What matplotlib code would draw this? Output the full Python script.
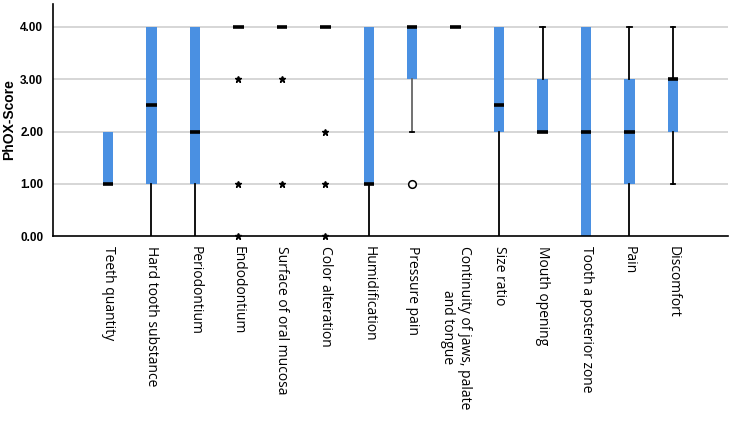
import matplotlib
matplotlib.use("Agg")
import matplotlib.pyplot as plt

# categories and box statistics
labels = ["Teeth quantity", "Hard tooth substance", "Periodontium", "Endodontium",
          "Surface of oral mucosa", "Color alteration", "Humidification",
          "Pressure pain", "Continuity of jaws, palate\nand tongue", "Size ratio",
          "Mouth opening", "Tooth a posterior zone", "Pain", "Discomfort"]
q1 = [1, 1, 1, 4, 4, 4, 1, 3, 4, 2, 2, 0, 1, 2]
med = [1, 2.5, 2, 4, 4, 4, 1, 4, 4, 2.5, 2, 2, 2, 3]
q3 = [2, 4, 4, 4, 4, 4, 4, 4, 4, 4, 3, 4, 3, 3]
whislo = [1, 0, 0, 4, 4, 4, 0, 2, 4, 0, 2, 0, 0, 1]
whishi = [2, 4, 4, 4, 4, 4, 4, 4, 4, 4, 4, 4, 4, 4]

# outliers (circle) and extremes (star)
circle_cat = [8]
circle_val = [1]
star_cat = [4, 4, 4, 5, 5, 6, 6, 6]
star_val = [3, 1, 0, 3, 1, 2, 1, 0]

yticks = [0, 1, 2, 3, 4]

fig = plt.figure(figsize=(7.34, 4.21), dpi=100)
ax = fig.add_axes([0.072, 0.4394, 0.92, 0.5511])

pos = list(range(1, len(labels) + 1))
stats = []
for i in range(len(labels)):
    stats.append(dict(med=med[i], q1=q1[i], q3=q3[i],
                      whislo=whislo[i], whishi=whishi[i], fliers=[]))

for y in yticks[1:]:
    ax.axhline(y, color="#d0d0d0", lw=1.2, zorder=0)

res = ax.bxp(stats, positions=pos, widths=0.24, patch_artist=True,
             showfliers=False, capwidths=0.1,
             boxprops=dict(facecolor="#4a90e2", edgecolor="none"),
             medianprops=dict(color="black", lw=2.6, solid_capstyle="butt"),
             whiskerprops=dict(color="black", lw=1.3),
             capprops=dict(color="black", lw=1.3))

# hide caps where the whisker ends on the box
for i in range(len(labels)):
    lo_cap = res["caps"][2 * i]
    hi_cap = res["caps"][2 * i + 1]
    if whislo[i] == q1[i] or whislo[i] == 0:
        lo_cap.set_visible(False)
    if whishi[i] == q3[i]:
        hi_cap.set_visible(False)
res["whiskers"][2 * 7].set_color("#666666")

ax.plot(star_cat, star_val, linestyle="none", marker="*", color="black",
        markersize=5, clip_on=False, zorder=5)
ax.plot(circle_cat, circle_val, linestyle="none", marker="o", mfc="white",
        mec="black", markersize=5.5, mew=1.1, zorder=5)

ax.set_xlim(-0.27, 15.27)
ax.set_ylim(0, 4.44)
ax.set_yticks(yticks)
ax.set_yticklabels(["%.2f" % v for v in yticks], fontsize=8.5,
                   fontweight="bold", family="Liberation Sans")
ax.set_xticks(pos)
ax.set_xticklabels(labels, rotation=-90, va="top", ha="center",
                   family="Open Sans", fontsize=10, multialignment="center")
ax.tick_params(axis="both", length=0)
ax.tick_params(axis="x", pad=7)
ax.tick_params(axis="y", pad=7)

ax.set_ylabel("PhOX-Score", fontsize=10, fontweight="bold",
              family="Liberation Sans")
ax.yaxis.set_label_coords(-0.054, 0.5)

ax.spines["top"].set_visible(False)
ax.spines["right"].set_visible(False)
ax.spines["left"].set_linewidth(1.2)
ax.spines["bottom"].set_linewidth(1.2)

fig.savefig("out.png", dpi=100)
